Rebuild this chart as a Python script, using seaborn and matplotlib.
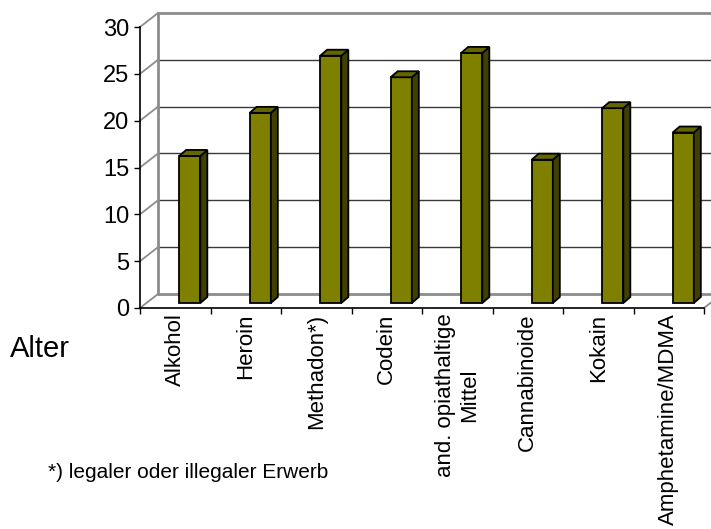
import matplotlib
matplotlib.use("Agg")
import matplotlib.pyplot as plt
from matplotlib.patches import Polygon
from matplotlib import font_manager
import seaborn as sns
import pandas as pd

# Alter beim Erstkonsum je Droge
drogen = ["Alkohol", "Heroin", "Methadon*)", "Codein", "and. opiathaltige\nMittel",
          "Cannabinoide", "Kokain", "Amphetamine/MDMA"]
alter = [15.7, 20.3, 26.4, 24.1, 26.7, 15.3, 20.8, 18.2]
y_ticks = [0, 5, 10, 15, 20, 25, 30]

sns.set_theme(style="white")
plt.rcParams['font.family'] = ['Liberation Sans', 'DejaVu Sans']
plt.rcParams['text.color'] = 'black'

# schmale Schrift fuer "Alter" und Fussnote, falls vorhanden
names = {f.name for f in font_manager.fontManager.ttflist}
narrow = 'Liberation Sans Narrow' if 'Liberation Sans Narrow' in names else 'Liberation Sans'

W, H = 711, 529
fig = plt.figure(figsize=(W / 100, H / 100), dpi=100)
fig.patch.set_facecolor("white")
ax = fig.add_axes([140 / W, 1 - 308 / H, 564 / W, 281 / H])
ax.set_facecolor("none")

df = pd.DataFrame({"Droge": drogen, "Alter": alter})
sns.barplot(data=df, x="Droge", y="Alter", color="#808000", saturation=1,
            width=0.3, edgecolor="black", linewidth=1.3, ax=ax, zorder=3)
ax.set_xlim(-0.5, 7.5)
ax.set_ylim(0, 30)

# pixel -> data units
ux = 8 / 564
uy = 30 / 281
bx, by = 18 * ux, 14 * uy     # Tiefe der Rueckwand
dx, dy = 7 * ux, 6 * uy       # Tiefe der Saeulen

# 3D-Saeulen: Vorderseite verschieben, Seite + Deckel anfuegen
for p in list(ax.patches):
    p.set_x(p.get_x() + 14.5 * ux)
    p.set_y(5 * uy)
    x0, y0, w, h = p.get_x(), p.get_y(), p.get_width(), p.get_height()
    side = Polygon([(x0 + w, y0), (x0 + w, y0 + h), (x0 + w + dx, y0 + h + dy), (x0 + w + dx, y0 + dy)],
                   closed=True, facecolor="#404000", edgecolor="black", linewidth=1.3, zorder=3)
    top = Polygon([(x0, y0 + h), (x0 + w, y0 + h), (x0 + w + dx, y0 + h + dy), (x0 + dx, y0 + h + dy)],
                  closed=True, facecolor="#666600", edgecolor="black", linewidth=1.3, zorder=3)
    ax.add_patch(side)
    ax.add_patch(top)

# Rueckwand, Seitenwand, Boden
for t in y_ticks:
    edge = t in (y_ticks[0], y_ticks[-1])
    ax.plot([-0.5 + bx, 7.5 + bx], [t + by, t + by], color="#8c8c8c" if edge else "#3a3a3a",
            lw=2 if edge else 1, clip_on=False, zorder=0.5)
    ax.plot([-0.5, -0.5 + bx], [t, t + by], color="#8c8c8c", lw=1.3, clip_on=False, zorder=0.5)
ax.plot([-0.5 + bx, -0.5 + bx], [by, 30 + by], color="#8c8c8c", lw=2, clip_on=False, zorder=0.5)
ax.plot([7.5, 7.5 + bx], [0, by], color="#8c8c8c", lw=1.3, clip_on=False, zorder=0.5)

# Achsen
for s in ["top", "right"]:
    ax.spines[s].set_visible(False)
for s in ["left", "bottom"]:
    ax.spines[s].set_color("black")
    ax.spines[s].set_linewidth(1.2)
    ax.spines[s].set_zorder(4)

ax.set_yticks(y_ticks)
ax.set_yticklabels([str(t) for t in y_ticks], fontsize=17, color="black")
ax.tick_params(axis="y", direction="out", length=4.5, width=1, color="black", pad=3, left=True)

ax.set_xticks(range(len(drogen)))
ax.set_xticklabels(drogen, rotation=90, fontsize=16, color="black", va="top", ha="center")
ax.set_xticks([i - 0.5 for i in range(len(drogen) + 1)], minor=True)
ax.tick_params(axis="x", which="major", length=0, pad=4)
ax.tick_params(axis="x", which="minor", direction="out", length=4.5, width=1, color="black", bottom=True)
ax.set_xlabel("")
ax.set_ylabel("")
ax.grid(False)

fig.text(10 / W, 1 - 349 / H, "Alter", fontsize=21, family=[narrow, 'DejaVu Sans'],
         color="black", va="center", ha="left")
fig.text(48 / W, 1 - 472 / H, "*) legaler oder illegaler Erwerb", fontsize=15,
         family=[narrow, 'DejaVu Sans'], color="black", va="center", ha="left")

fig.savefig("out.png", dpi=100, facecolor="white")
